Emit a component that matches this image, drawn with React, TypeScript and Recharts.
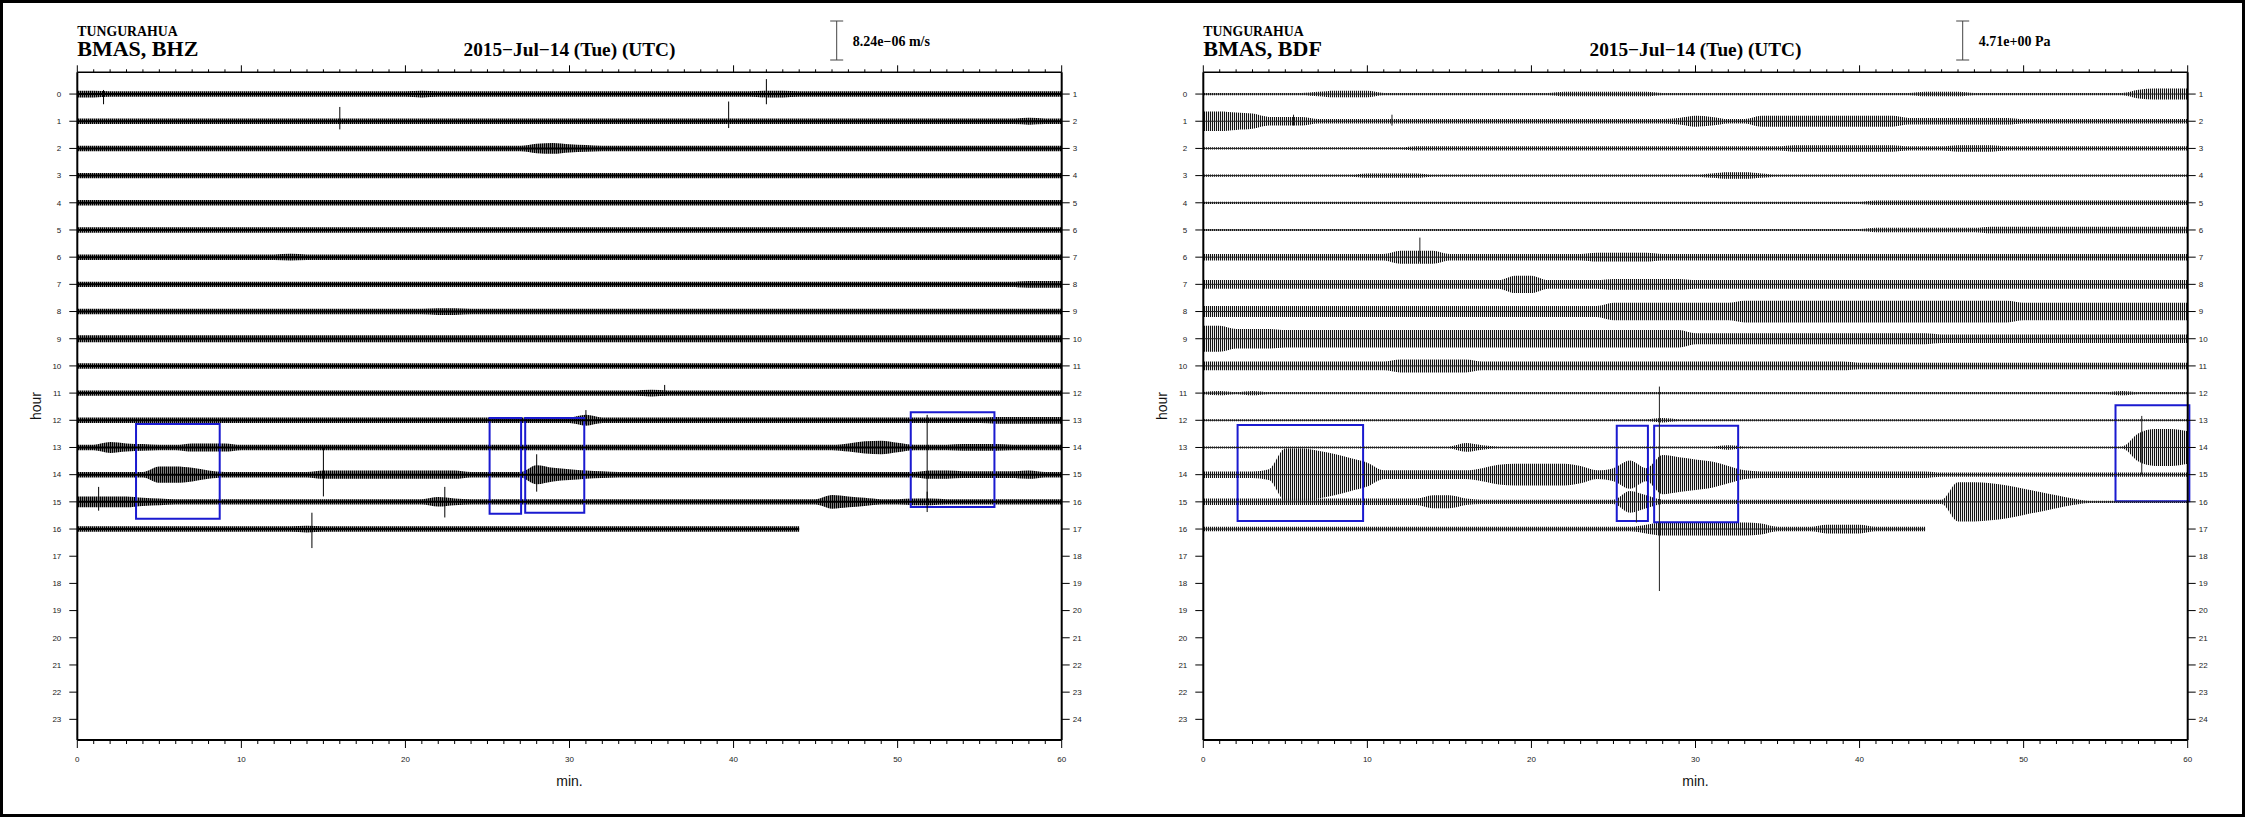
import React from 'react';
import {
  ComposedChart,
  Area,
  XAxis,
  YAxis,
  ReferenceLine,
  ReferenceArea,
} from 'recharts';

// helicorder rows: one char per minute (0..60), base-36 envelope half-amplitude
// in steps of the panel's unit (hours); '.' = no data yet
const BHZ_UNIT = 0.025;
const BDF_UNIT = 0.04;

const hourTicks = [0, 1, 2, 3, 4, 5, 6, 7, 8, 9, 10, 11, 12, 13, 14, 15, 16, 17, 18, 19, 20, 21, 22, 23];
const minuteTicks = Array.from({ length: 61 }, (_, i) => i);

const bhzRows = [
  '5544444444 4444444444 4544444444 4444444444 4455444444 4444444444 4',
  '4444444444 4444444444 4444444444 4444444444 4444444444 4444444454 4',
  '4444444444 4444444444 4444444478 6544444444 4444444444 4444444444 4',
  '4444444444 4444444444 4444444444 4444444444 4444444444 4444444444 4',
  '4444444444 4444444444 4444444444 4444444444 4444444444 4444444444 4',
  '4444444444 4444444444 4444444444 4444444444 4444444444 4444444444 4',
  '4444444444 4445444444 4444444444 4444444444 4444444444 4444444444 4',
  '4444444444 4444444444 4444444444 4444444444 4444444444 4444444455 5',
  '4444444444 4444444444 4455444444 4444444444 4444444444 4444444444 4',
  '5555555555 5555555555 5555555555 5555555555 5555555555 5555555555 5',
  '4444444444 4444444444 4444444444 4444444444 4444444444 4444444444 4',
  '4444444444 4444444444 4444444444 4444454444 4444444444 4444444444 4',
  '4444444444 4444444444 4444444444 4844444444 4444444444 4444445555 5',
  '4486544666 4444444444 4444444444 4444444444 444444469a 7444555444 4',
  '44444cca64 4444466666 66664444ea 8654444444 4444444444 4466555564 4',
  '8888654444 4444444444 4475444444 4444444444 444444a864 4554444444 4',
  '4444444444 4444544444 4444444444 4444444444 44444..... .......... .',
];

const bdfRows = [
  '1111111233 3111111111 1122222211 1111111111 1111222111 1111111455 5',
  '9987444222 2222222222 2222222223 5422555555 5553333333 2222222222 2',
  '1111111111 1112222222 2222222222 2222223333 3332223332 2222222222 2',
  '1111111111 2222111111 1111111111 1233211111 1111111111 1111111111 1',
  '1111111111 1111111111 1111111111 1111111111 1222222222 2222222222 2',
  '1111111111 1111111111 1111111111 1111111111 1222222233 3333333333 3',
  '3333333333 3366633333 3333444433 3333333333 3333333333 3333333333 3',
  '4444444444 4444444448 8444455555 4444444444 4444444444 4444444444 4',
  '5555555555 5555555555 5555588888 888aaaaaaa aaaaaaaaaa 8888888888 8',
  'cc99988888 8888888888 8888888888 5555555555 5555544444 4444444444 4',
  '4444444444 4466666444 4444444444 4444444444 3333333333 3333333333 3',
  '1212111111 1111111111 1111111111 1111111111 1111111111 1111112111 1',
  '1111111111 1111111111 1111111121 1111111111 1111111111 1111111111 1',
  '1111111111 1111114211 1111111111 1121111111 1111111111 1111111dhh f',
  '33335oomjf b44444469a aaa846d6ig ec84333333 3333322222 2222222222 2',
  '3333333333 3333663222 222222a622 2222222222 222222iihf c963111111 1',
  '2222222222 2222222222 2222222466 6666522244 42222..... .......... .',
];

// [hour, minute, up, down] in the panel's unit
const bhzSpikes: number[][] = [
  [0, 1.6, 6, 15], [0, 42.0, 22, 15], [1, 16.0, 21, 12], [1, 39.7, 29, 10],
  [11, 35.8, 12, 4], [12, 31.0, 15, 6], [14, 15.0, 40, 32], [14, 28.0, 30, 25],
  [14, 51.8, 88, 38], [15, 1.3, 22, 13], [15, 22.4, 22, 23], [15, 51.8, 15, 15],
  [16, 14.3, 24, 28],
];

const bdfSpikes: number[][] = [
  [16, 27.8, 131, 57], [6, 13.2, 18, 4], [13, 57.2, 29, 25], [15, 26.4, 25, 19],
  [1, 5.5, 6, 4], [1, 11.5, 6, 4],
];

// [min start, min end, hour top, hour bottom]
const bhzBoxes: number[][] = [
  [3.58, 8.68, 12.14, 15.62], [25.13, 27.05, 11.92, 15.44],
  [27.3, 30.9, 11.92, 15.4], [50.8, 55.9, 11.7, 15.19],
];

const bdfBoxes: number[][] = [
  [2.09, 9.74, 12.17, 15.7], [25.2, 27.1, 12.2, 15.7],
  [27.48, 32.6, 12.2, 15.75], [55.6, 60.1, 11.45, 14.98],
];

const SANS = "'Liberation Sans', Arial, sans-serif";
const SERIF = "'Liberation Serif', 'Times New Roman', serif";
const Y_DOMAIN = [-0.8, 23.76];

function buildData(rows: string[], unit: number) {
  const clean = rows.map((r) => r.replace(/ /g, ''));
  return minuteTicks.map((m) => {
    const pt: any = { m };
    clean.forEach((r, h) => {
      const ch = r[m];
      if (!ch || ch === '.') {
        pt['r' + h] = null;
      } else {
        const a = parseInt(ch, 36) * unit;
        pt['r' + h] = [h - a, h + a];
      }
    });
    return pt;
  });
}

function rowEnd(row: string) {
  const r = row.replace(/ /g, '');
  const i = r.indexOf('.');
  return i < 0 ? 60 : i - 1;
}

const BottomTick = (props: any) => {
  const { x, y, payload } = props;
  const major = payload.value % 10 === 0;
  return (
    <g>
      <line x1={x} x2={x} y1={y} y2={y + (major ? 8 : 4)} stroke="#000" strokeWidth={1} />
      {major && (
        <text x={x} y={y + 22} textAnchor="middle" fontSize={8} fill="#222" fontFamily={SANS}>
          {payload.value}
        </text>
      )}
    </g>
  );
};

const TopTick = (props: any) => {
  const { x, y, payload } = props;
  const major = payload.value % 10 === 0;
  return <line x1={x} x2={x} y1={y} y2={y - (major ? 7 : 3)} stroke="#000" strokeWidth={1} />;
};

interface PanelProps {
  left: number;
  rows: string[];
  unit: number;
  spikes: number[][];
  boxes: number[][];
  color: string;
  hatch: string;
  coreWidth: number;
  station: string;
  scale: string;
}

function Panel({ left, rows, unit, spikes, boxes, color, hatch, coreWidth, station, scale }: PanelProps) {
  const data = buildData(rows, unit);
  return (
    <div style={{ position: 'absolute', left, top: 0 }}>
      <ComposedChart
        width={1140}
        height={817}
        data={data}
        margin={{ top: 62.3, right: 48.3, bottom: 47, left: 47.3 }}
      >
        <XAxis
          xAxisId="b"
          dataKey="m"
          type="number"
          domain={[0, 60]}
          allowDataOverflow
          ticks={minuteTicks}
          interval={0}
          height={30}
          tickSize={0}
          tickMargin={0}
          tickLine={false}
          tick={BottomTick}
          axisLine={{ stroke: '#000', strokeWidth: 2 }}
        />
        <XAxis
          xAxisId="t"
          orientation="top"
          dataKey="m"
          type="number"
          domain={[0, 60]}
          allowDataOverflow
          ticks={minuteTicks}
          interval={0}
          height={10}
          tickSize={0}
          tickMargin={0}
          tickLine={false}
          tick={TopTick}
          axisLine={{ stroke: '#000', strokeWidth: 1.5 }}
        />
        <YAxis
          yAxisId="l"
          type="number"
          domain={Y_DOMAIN}
          allowDataOverflow
          reversed
          ticks={hourTicks}
          interval={0}
          width={30}
          tickSize={8}
          tickMargin={8}
          tickLine={{ stroke: '#000' }}
          tick={{ fontSize: 8, fill: '#222', fontFamily: SANS }}
          axisLine={{ stroke: '#000', strokeWidth: 2 }}
        />
        <YAxis
          yAxisId="r"
          orientation="right"
          type="number"
          domain={Y_DOMAIN}
          allowDataOverflow
          reversed
          ticks={hourTicks}
          interval={0}
          width={30}
          tickSize={8}
          tickMargin={3}
          tickFormatter={(v: number) => String(v + 1)}
          tickLine={{ stroke: '#000' }}
          tick={{ fontSize: 8, fill: '#222', fontFamily: SANS, textAnchor: 'start' }}
          axisLine={{ stroke: '#000', strokeWidth: 2 }}
        />
        {rows.map((_, h) => (
          <Area
            key={h}
            xAxisId={h % 2 ? 't' : 'b'}
            yAxisId={h % 2 ? 'r' : 'l'}
            dataKey={'r' + h}
            type="monotone"
            stroke="none"
            fill={`url(#${hatch})`}
            fillOpacity={1}
            dot={false}
            activeDot={false}
            isAnimationActive={false}
          />
        ))}
        {rows.map((r, h) => (
          <ReferenceLine
            key={'c' + h}
            xAxisId="b"
            yAxisId="l"
            segment={[
              { x: 0, y: h },
              { x: rowEnd(r), y: h },
            ]}
            stroke={color}
            strokeWidth={coreWidth}
          />
        ))}
        {spikes.map(([h, m, up, down], i) => (
          <ReferenceLine
            key={'s' + i}
            xAxisId="b"
            yAxisId="l"
            segment={[
              { x: m, y: h - up * unit },
              { x: m, y: h + down * unit },
            ]}
            stroke={color}
            strokeWidth={1}
            ifOverflow="visible"
          />
        ))}
        {boxes.map(([x1, x2, y1, y2], i) => (
          <ReferenceArea
            key={'b' + i}
            xAxisId="b"
            yAxisId="l"
            x1={x1}
            x2={x2}
            y1={y1}
            y2={y2}
            fill="none"
            fillOpacity={0}
            stroke="#1a1ad0"
            strokeWidth={2}
            ifOverflow="visible"
          />
        ))}
      </ComposedChart>
      <svg
        width={1140}
        height={817}
        style={{ position: 'absolute', left: 0, top: 0, pointerEvents: 'none' }}
      >
        <text x={77.3} y={35.7} fontFamily={SERIF} fontWeight="bold" fontSize={13.8}>
          TUNGURAHUA
        </text>
        <text x={77.3} y={56} fontFamily={SERIF} fontWeight="bold" fontSize={22}>
          {station}
        </text>
        <text x={569.5} y={56} textAnchor="middle" fontFamily={SERIF} fontWeight="bold" fontSize={19.3}>
          2015−Jul−14 (Tue) (UTC)
        </text>
        <g stroke="#444" strokeWidth={1}>
          <line x1={836.7} x2={836.7} y1={21} y2={60} />
          <line x1={830.2} x2={843.2} y1={21} y2={21} />
          <line x1={830.2} x2={843.2} y1={60} y2={60} />
        </g>
        <text x={852.7} y={46} fontFamily={SERIF} fontWeight="bold" fontSize={14}>
          {scale}
        </text>
        <text
          x={41}
          y={406}
          transform="rotate(-90 41 406)"
          textAnchor="middle"
          fontFamily={SANS}
          fontSize={14}
          fill="#111"
        >
          hour
        </text>
        <text x={569.5} y={786} textAnchor="middle" fontFamily={SANS} fontSize={14} fill="#111">
          min.
        </text>
      </svg>
    </div>
  );
}

export default function App() {
  return (
    <div
      style={{
        position: 'fixed',
        left: 0,
        top: 0,
        width: 2245,
        height: 817,
        background: '#fff',
        overflow: 'hidden',
      }}
    >
      <svg width={0} height={0} style={{ position: 'absolute' }}>
        <defs>
          <pattern id="hatchK" width="2" height="6" patternUnits="userSpaceOnUse">
            <rect x="0" y="0" width="1.5" height="6" fill="#000" />
          </pattern>
          <pattern id="hatchG" width="2" height="6" patternUnits="userSpaceOnUse">
            <rect x="0" y="0" width="1.1" height="6" fill="#111" />
          </pattern>
        </defs>
      </svg>
      <Panel
        left={0}
        rows={bhzRows}
        unit={BHZ_UNIT}
        spikes={bhzSpikes}
        boxes={bhzBoxes}
        color="#000"
        hatch="hatchK"
        coreWidth={2}
        station="BMAS, BHZ"
        scale="8.24e−06 m/s"
      />
      <Panel
        left={1126}
        rows={bdfRows}
        unit={BDF_UNIT}
        spikes={bdfSpikes}
        boxes={bdfBoxes}
        color="#222"
        hatch="hatchG"
        coreWidth={1}
        station="BMAS, BDF"
        scale="4.71e+00 Pa"
      />
      <div
        style={{
          position: 'absolute',
          left: 0,
          top: 0,
          width: 2245,
          height: 817,
          boxSizing: 'border-box',
          border: '3px solid #000',
          pointerEvents: 'none',
        }}
      />
    </div>
  );
}
